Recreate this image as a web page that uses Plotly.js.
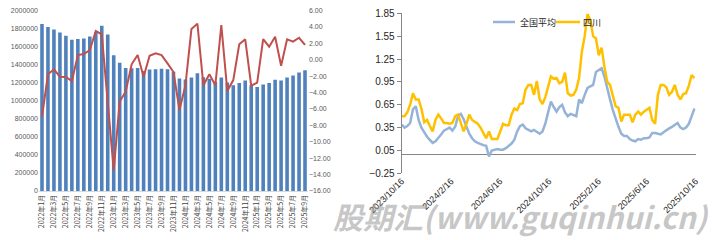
<!DOCTYPE html>
<html><head><meta charset="utf-8">
<script src="https://cdn.plot.ly/plotly-3.0.1.min.js"></script>
<style>html,body{margin:0;padding:0;background:#fff;}#c{width:721px;height:240px;}</style>
</head><body><div id="c"></div>
<script>
// Left chart: monthly
const months = ["2022年1月","2022年2月","2022年3月","2022年4月","2022年5月","2022年6月","2022年7月","2022年8月","2022年9月","2022年10月","2022年11月","2022年12月",
"2023年1月","2023年2月","2023年3月","2023年4月","2023年5月","2023年6月","2023年7月","2023年8月","2023年9月","2023年10月","2023年11月","2023年12月",
"2024年1月","2024年2月","2024年3月","2024年4月","2024年5月","2024年6月","2024年7月","2024年8月","2024年9月","2024年10月","2024年11月","2024年12月",
"2025年1月","2025年2月","2025年3月","2025年4月","2025年5月","2025年6月","2025年7月","2025年8月","2025年9月"];
const barValues = [1850000,1816000,1790000,1757000,1720000,1676000,1683000,1690000,1713000,1760000,1831000,1735000,
1503000,1422000,1362000,1360000,1362000,1330000,1345000,1348000,1355000,1350000,1322000,1247000,
1235000,1257000,1304000,1260000,1245000,1208000,1257000,1201000,1171000,1197000,1223000,1171000,
1153000,1179000,1197000,1234000,1223000,1257000,1279000,1312000,1337000];
const lineValues = [-6.95,-1.78,-1.17,-2.07,-2.11,-2.6,0.57,0.70,1.18,3.5,3.1,-5.0,
-13.45,-5.1,-3.9,-0.56,0.57,-2.07,0.49,0.78,0.57,-0.44,-1.5,-6.13,
-3.1,3.74,4.4,-3.1,-1.78,-3.1,4.23,-3.8,-2.48,1.88,2.49,-3.17,
-2.8,2.52,1.59,2.8,-0.73,2.49,2.2,2.68,1.8];
const leftTickLabels = months.filter((m,i)=>i%2===0);
const leftYTicks = [0,200000,400000,600000,800000,1000000,1200000,1400000,1600000,1800000,2000000];
const rightYTicks = [-16,-14,-12,-10,-8,-6,-4,-2,0,2,4,6];

// Right chart: weekly
const dates = ["2023-10-16","2023-10-23","2023-10-30","2023-11-06","2023-11-13","2023-11-20","2023-11-27","2023-12-04","2023-12-11","2023-12-18","2023-12-25",
"2024-01-01","2024-01-08","2024-01-15","2024-01-22","2024-01-29","2024-02-05","2024-02-12","2024-02-19","2024-02-26","2024-03-04","2024-03-11","2024-03-18","2024-03-25",
"2024-04-01","2024-04-08","2024-04-15","2024-04-22","2024-04-29","2024-05-06","2024-05-13","2024-05-20","2024-05-27","2024-06-03","2024-06-10","2024-06-17","2024-06-24",
"2024-07-01","2024-07-08","2024-07-15","2024-07-22","2024-07-29","2024-08-05","2024-08-12","2024-08-19","2024-08-26","2024-09-02","2024-09-09","2024-09-16","2024-09-23","2024-09-30",
"2024-10-07","2024-10-14","2024-10-21","2024-10-28","2024-11-04","2024-11-11","2024-11-18","2024-11-25","2024-12-02","2024-12-09","2024-12-16","2024-12-23","2024-12-30",
"2025-01-06","2025-01-13","2025-01-20","2025-01-27","2025-02-03","2025-02-10","2025-02-17","2025-02-24","2025-03-03","2025-03-10","2025-03-17","2025-03-24","2025-03-31",
"2025-04-07","2025-04-14","2025-04-21","2025-04-28","2025-05-05","2025-05-12","2025-05-19","2025-05-26","2025-06-02","2025-06-09","2025-06-16","2025-06-23","2025-06-30",
"2025-07-07","2025-07-14","2025-07-21","2025-07-28","2025-08-04","2025-08-11","2025-08-18","2025-08-25","2025-09-01","2025-09-08","2025-09-15","2025-09-22","2025-09-29",
"2025-10-06","2025-10-13"];
const national = [0.39,0.35,0.37,0.41,0.59,0.63,0.45,0.35,0.29,0.23,
0.19,0.15,0.17,0.21,0.26,0.31,0.33,0.35,0.31,0.36,
0.50,0.53,0.46,0.36,0.27,0.21,0.17,0.15,0.13,0.12,
0.11,-0.03,0.05,0.06,0.07,0.06,0.06,0.08,0.11,0.14,
0.19,0.30,0.37,0.39,0.34,0.32,0.30,0.32,0.30,0.27,
0.30,0.40,0.55,0.69,0.62,0.56,0.62,0.65,0.55,0.50,
0.53,0.52,0.50,0.72,0.67,0.78,0.87,0.89,0.91,1.08,
1.11,1.13,1.02,0.85,0.72,0.58,0.46,0.36,0.27,0.24,
0.24,0.20,0.18,0.17,0.20,0.19,0.21,0.21,0.22,0.28,
0.28,0.27,0.26,0.29,0.32,0.34,0.36,0.38,0.41,0.35,
0.33,0.35,0.40,0.50,0.60];
const sichuan = [0.50,0.50,0.55,0.65,0.80,0.72,0.72,0.60,0.42,0.45,
0.37,0.30,0.45,0.52,0.47,0.41,0.41,0.40,0.41,0.50,
0.52,0.42,0.30,0.40,0.52,0.45,0.42,0.40,0.35,0.28,
0.21,0.30,0.20,0.20,0.20,0.30,0.40,0.38,0.38,0.52,
0.60,0.58,0.66,0.67,0.85,0.91,0.91,0.78,0.96,0.72,
0.66,0.75,0.87,1.02,0.99,1.00,0.93,0.95,1.07,0.80,
0.77,0.78,0.85,1.00,1.35,1.55,1.84,1.76,1.55,1.52,
1.30,1.40,1.15,0.95,0.91,0.76,0.63,0.61,0.43,0.52,
0.52,0.52,0.42,0.52,0.56,0.52,0.56,0.58,0.61,0.45,
0.40,0.78,0.91,0.91,0.88,0.78,0.82,0.91,0.78,0.72,
0.79,0.80,0.90,1.04,1.00];
const dateTicks = ["2023-10-16","2024-02-16","2024-06-16","2024-10-16","2025-02-16","2025-06-16","2025-10-16"];
const dateTickLabels = ["2023/10/16","2024/2/16","2024/6/16","2024/10/16","2025/2/16","2025/6/16","2025/10/16"];
const priceTicks = [-0.25,0.05,0.35,0.65,0.95,1.25,1.55,1.85];
const seriesNames = ["全国平均","四川"];
const seriesColors = ['#95B3D7','#FFC000'];

const W=721,H=240;
const px=(x)=>x/W, py=(y)=>1-y/H;
const numFont = "Liberation Sans, Arial, sans-serif";
const cjk = "Noto Sans CJK SC, sans-serif";

const traces = [
 {type:'bar', x:months, y:barValues, xaxis:'x', yaxis:'y', marker:{color:'#4F81BD'}, hoverinfo:'skip'},
 {type:'scatter', mode:'lines', x:months, y:lineValues, xaxis:'x', yaxis:'y2', line:{color:'#C0504D', width:2}},
 {type:'scatter', mode:'lines', name:seriesNames[0], x:dates, y:national, xaxis:'x3', yaxis:'y3', line:{color:seriesColors[0], width:2.5}},
 {type:'scatter', mode:'lines', name:seriesNames[1], x:dates, y:sichuan, xaxis:'x3', yaxis:'y3', line:{color:seriesColors[1], width:2.5}}
];

// manual legend (line sample + text)
const legendItems = [
 {x0:493, x1:515, tx:518, name:seriesNames[0], color:seriesColors[0]},
 {x0:556, x1:580, tx:581, name:seriesNames[1], color:seriesColors[1]}
];
const legendY = 22;
const shapes = legendItems.map(it=>({type:'line', xref:'paper', yref:'paper', x0:px(it.x0), x1:px(it.x1), y0:py(legendY), y1:py(legendY),
  line:{color:it.color, width:2.5}}));
const annotations = legendItems.map(it=>({xref:'paper', yref:'paper', x:px(it.tx), y:py(legendY), xanchor:'left', yanchor:'middle',
  showarrow:false, text:it.name, font:{family:cjk, size:9, color:'#262626'}}));
annotations.push({xref:'paper', yref:'paper', x:px(521), y:py(216), xanchor:'center', yanchor:'middle', showarrow:false, borderpad:0,
   text:'<b><i>股期汇(www.guqinhui.cn)</i></b>', font:{family:cjk, size:30, color:'rgba(150,150,150,0.55)'}});

const layout = {
 width:W, height:H, margin:{l:0,r:0,t:0,b:0}, paper_bgcolor:'#fff', plot_bgcolor:'rgba(0,0,0,0)',
 bargap:0.4, showlegend:false,
 xaxis:{domain:[px(39),px(308)], anchor:'y', type:'category', range:[-0.5,44.5],
   tickvals:leftTickLabels, ticktext:leftTickLabels, tickangle:-90,
   tickfont:{family:cjk, size:7, color:'#404040'}, showline:true, linecolor:'#D9D9D9', linewidth:1,
   ticks:'', showgrid:false, zeroline:false, automargin:false},
 yaxis:{domain:[py(191),py(10.5)], anchor:'x', range:[0,2000000], tickvals:leftYTicks, tickformat:'d',
   tickfont:{family:numFont, size:7, color:'#595959'}, showgrid:false, zeroline:false, showline:false, ticks:'', automargin:false},
 yaxis2:{overlaying:'y', side:'right', anchor:'x', range:[-16,6], tickvals:rightYTicks, tickformat:'.2f', ticksuffix:'%',
   tickfont:{family:numFont, size:7, color:'#595959'}, showgrid:false, zeroline:false, showline:false, ticks:'', automargin:false},
 xaxis3:{domain:[px(401.7),px(695.7)], anchor:'y3', type:'date', range:['2023-10-16','2025-10-16'],
   tickvals:dateTicks, ticktext:dateTickLabels, tickangle:-45,
   tickfont:{family:numFont, size:9, color:'#262626'}, showline:false, ticks:'', showgrid:false, zeroline:false, automargin:false},
 yaxis3:{domain:[py(173.3),py(13.3)], anchor:'x3', range:[-0.25,1.85], tickvals:priceTicks, tickformat:'.2f',
   tickfont:{family:numFont, size:10, color:'#262626'}, showgrid:false, showline:true, linecolor:'#868686', linewidth:1,
   ticks:'outside', ticklen:4, tickcolor:'#868686', zeroline:true, zerolinecolor:'#868686', zerolinewidth:1, automargin:false},
 shapes: shapes,
 annotations: annotations
};
Plotly.newPlot('c', traces, layout, {displayModeBar:false, staticPlot:true});
</script></body></html>
